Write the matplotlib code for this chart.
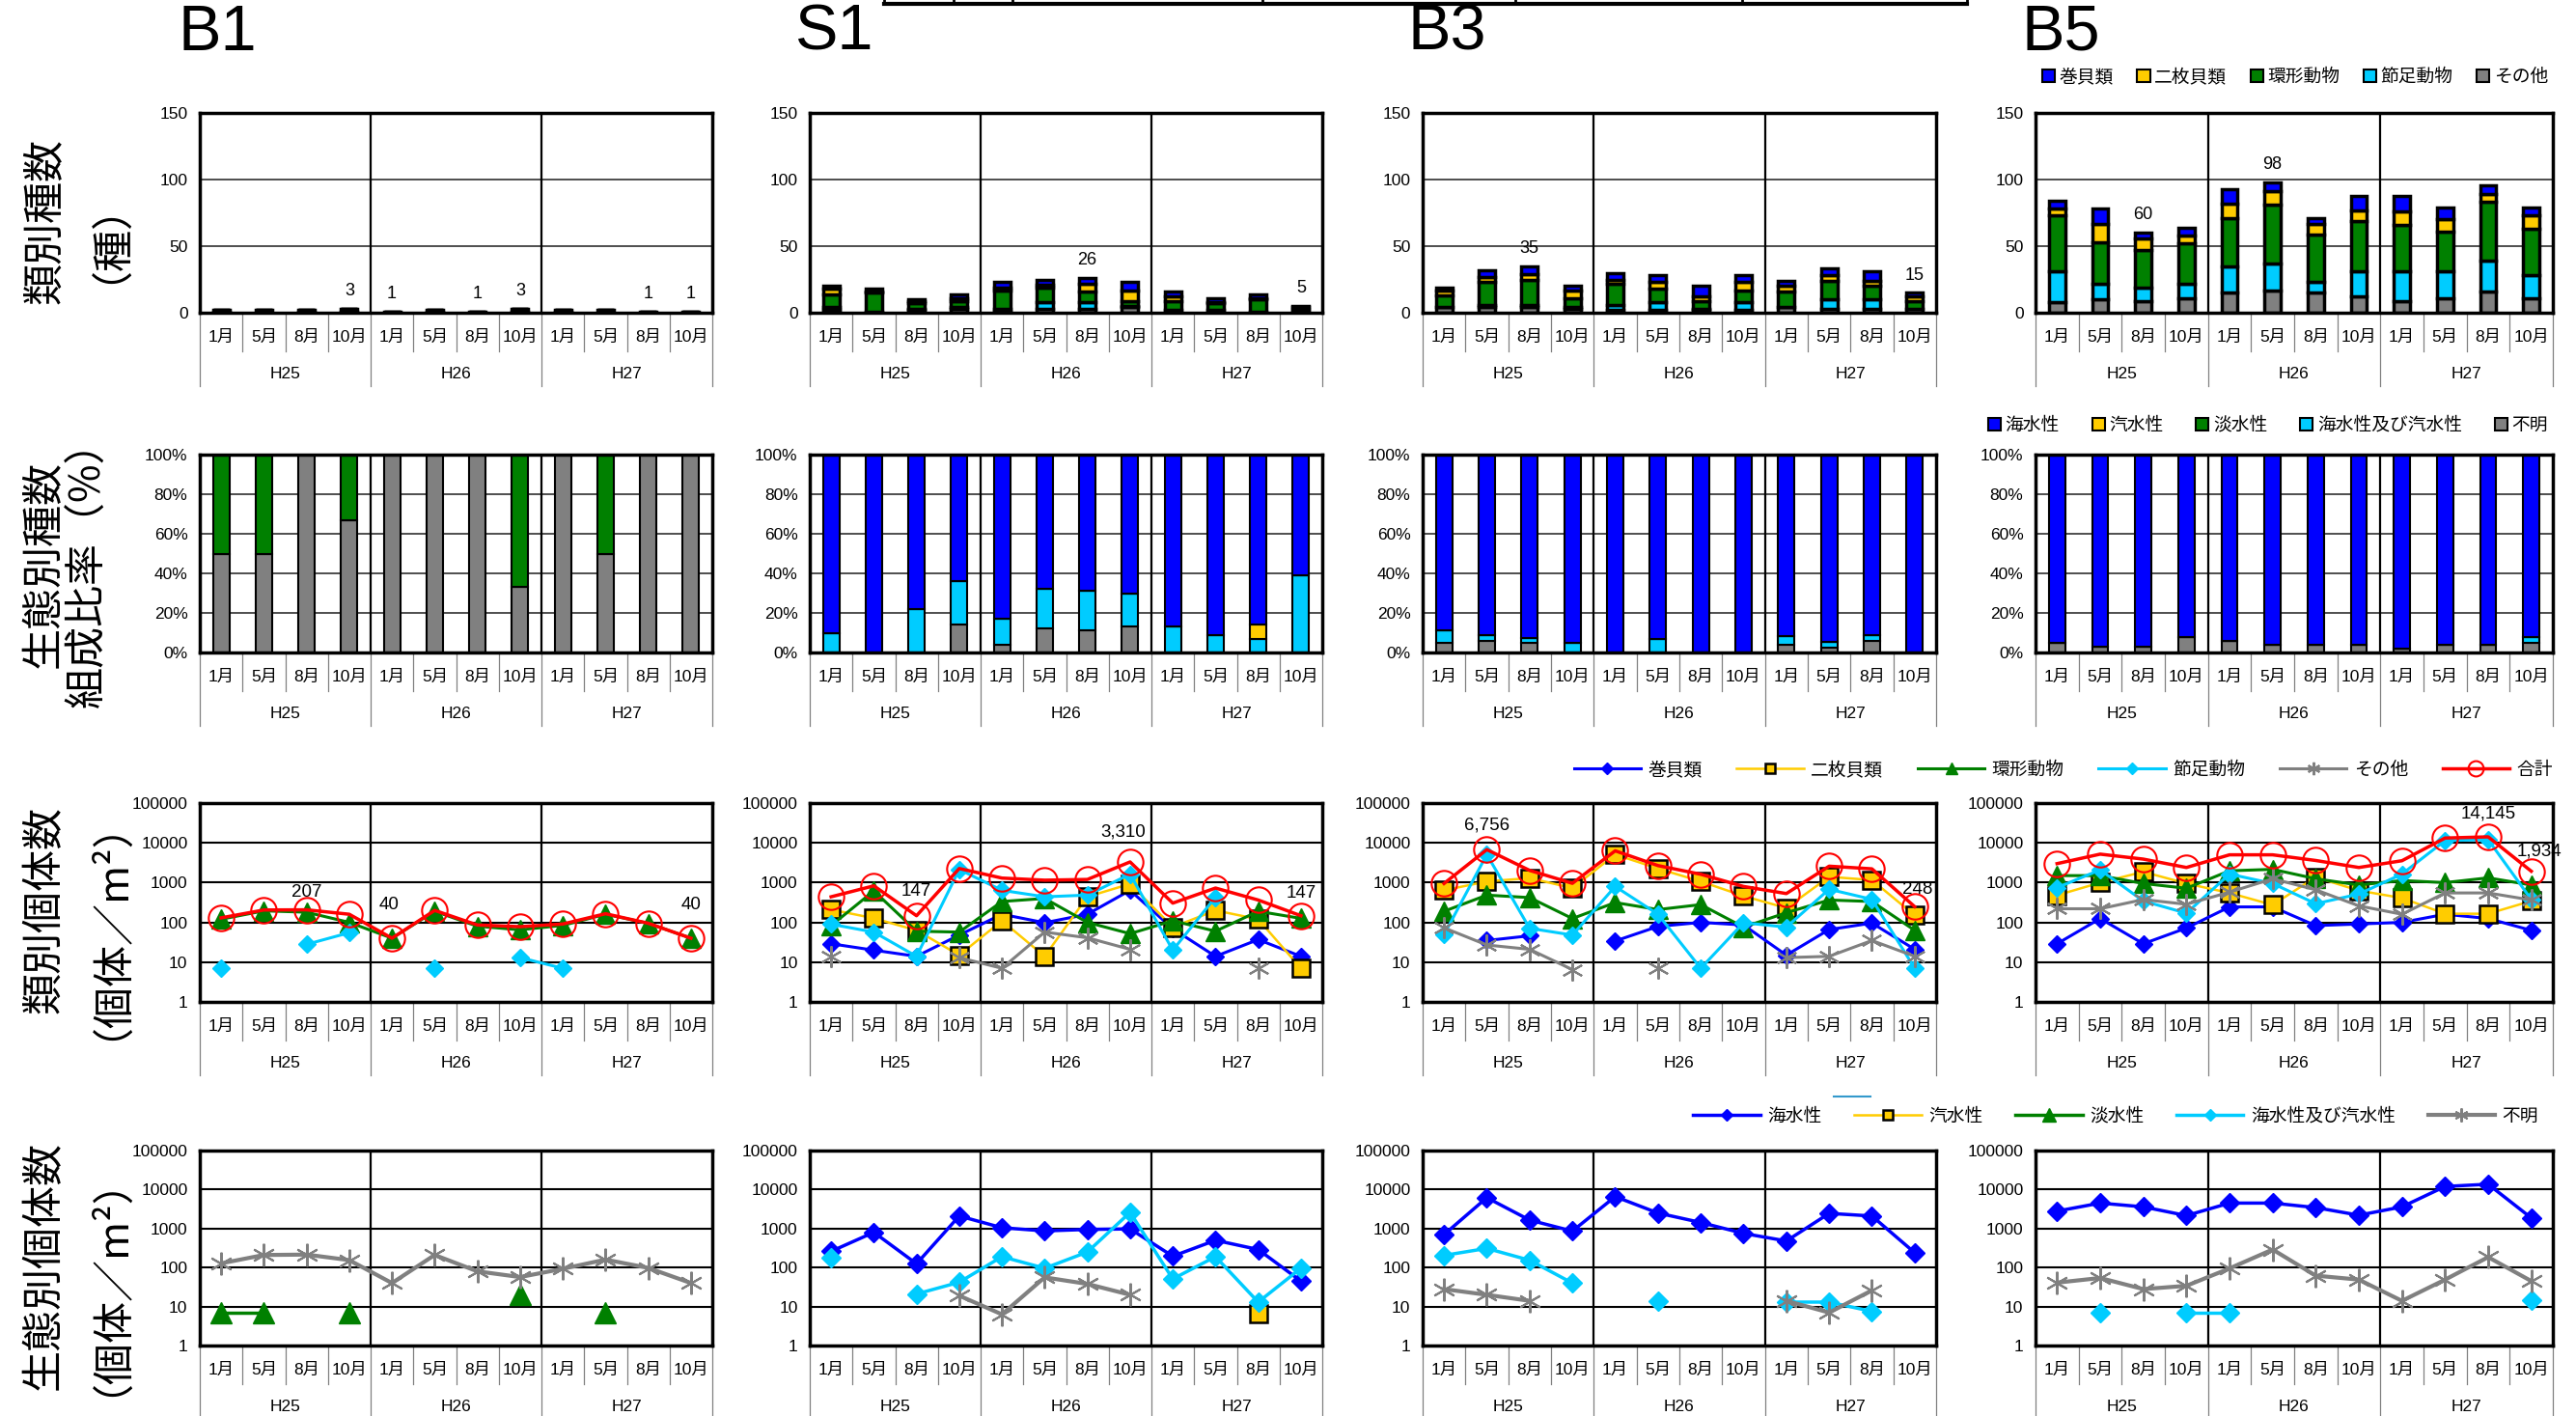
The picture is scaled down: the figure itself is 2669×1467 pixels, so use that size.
import numpy as np
import matplotlib
matplotlib.use("Agg")
import matplotlib.pyplot as plt
from matplotlib.lines import Line2D
from matplotlib.patches import Patch
from matplotlib.ticker import FixedLocator, LogLocator, NullFormatter

plt.rcParams["font.family"] = ["Liberation Sans", "Noto Sans CJK JP"]

months = ["1月", "5月", "8月", "10月"] * 3
years = ["H25", "H26", "H27"]
stations = ["B1", "S1", "B3", "B5"]

taxa = ["巻貝類", "二枚貝類", "環形動物", "節足動物", "その他"]
eco = ["海水性", "汽水性", "淡水性", "海水性及び汽水性", "不明"]
N = None

# --- species count by taxon (巻貝類, 二枚貝類, 環形動物, 節足動物, その他)
b1_species = [[0] * 12,
              [0] * 12,
              [1, 2, 1, 2, 1, 1, 1, 2, 1, 2, 1, 1],
              [1, 0, 1, 1, 0, 1, 0, 1, 1, 0, 0, 0],
              [0] * 12]
s1_species = [[2, 2, 1, 3, 4, 4, 4, 6, 4, 3, 3, 1],
              [4, 1, 2, 2, 2, 2, 6, 8, 3, 1, 1, 0],
              [10, 14, 4, 5, 14, 11, 8, 4, 7, 5, 9, 2],
              [2, 0, 1, 1, 2, 5, 5, 1, 0, 0, 0, 0],
              [2, 1, 2, 3, 1, 3, 3, 4, 2, 2, 1, 2]]
b3_species = [[2, 5, 6, 3, 5, 5, 8, 5, 4, 5, 7, 3],
              [4, 4, 4, 6, 3, 5, 3, 6, 4, 4, 4, 3],
              [9, 17, 19, 7, 16, 10, 6, 9, 12, 14, 10, 6],
              [0, 2, 2, 1, 4, 6, 1, 6, 0, 7, 7, 0],
              [4, 4, 4, 3, 2, 2, 2, 2, 4, 3, 3, 3]]
b5_species = [[6, 11, 4, 6, 11, 7, 4, 11, 12, 9, 7, 6],
              [5, 14, 9, 6, 11, 10, 8, 8, 10, 9, 6, 10],
              [42, 31, 28, 30, 36, 44, 36, 38, 35, 30, 44, 35],
              [23, 12, 10, 11, 20, 20, 8, 19, 22, 20, 23, 17],
              [8, 10, 9, 11, 15, 17, 15, 12, 9, 11, 16, 11]]
species_label_idx = {"B1": [3, 4, 6, 7, 10, 11], "S1": [6, 11], "B3": [2, 11], "B5": [2, 5]}

# --- species composition by ecology, % (海水性, 汽水性, 淡水性, 海水性及び汽水性, 不明)
b1_eco_pct = [[0] * 12,
              [0] * 12,
              [50, 50, 0, 33, 0, 0, 0, 67, 0, 50, 0, 0],
              [0] * 12,
              [50, 50, 100, 67, 100, 100, 100, 33, 100, 50, 100, 100]]
s1_eco_pct = [[90, 100, 78, 64, 83, 68, 69, 70, 87, 91, 86, 61],
              [0, 0, 0, 0, 0, 0, 0, 0, 0, 0, 7, 0],
              [0] * 12,
              [10, 0, 22, 22, 13, 20, 20, 17, 13, 9, 7, 39],
              [0, 0, 0, 14, 4, 12, 11, 13, 0, 0, 0, 0]]
b3_eco_pct = [[89, 91, 92.5, 95, 100, 93, 100, 100, 91.5, 94.5, 91, 100],
              [0] * 12,
              [0] * 12,
              [6, 3, 2.5, 5, 0, 7, 0, 0, 4.5, 3, 3, 0],
              [5, 6, 5, 0, 0, 0, 0, 0, 4, 2.5, 6, 0]]
b5_eco_pct = [[95, 97, 97, 92, 94, 96, 96, 96, 98, 96, 96, 92],
              [0] * 12,
              [0] * 12,
              [0] * 11 + [3],
              [5, 3, 3, 8, 6, 4, 4, 4, 2, 4, 4, 5]]

# --- individuals by taxon (巻貝類, 二枚貝類, 環形動物, 節足動物, その他, 合計)
b1_ind = [[N] * 12,
          [N] * 12,
          [120, 195, 180, 100, 40, 190, 80, 65, 84, 160, 95, 40],
          [7, N, 28, 55, N, 7, N, 13, 7, N, N, N],
          [N] * 12,
          [130, 205, 207, 160, 40, 200, 86, 78, 91, 165, 95, 40]]
s1_ind = [[29, 20, 14, 48, 160, 98, 160, 640, 69, 14, 37, 14],
          [210, 127, 63, 15, 110, 14, 440, 930, 76, 200, 120, 7],
          [83, 620, 60, 57, 335, 400, 100, 52, 110, 60, 190, 126],
          [90, 57, 14, 2140, 640, 440, 485, 1630, 20, 430, N, N],
          [14, N, N, 13, 7, 57, 41, 21, N, N, 7, N],
          [440, 830, 147, 2260, 1300, 1150, 1200, 3310, 305, 730, 365, 147]]
b3_ind = [[N, 35, 46, N, 34, 79, 100, 86, 15, 66, 96, 21],
          [640, 1070, 1300, 730, 5100, 2260, 1070, 460, 230, 1400, 1160, 150],
          [190, 485, 420, 125, 315, 210, 280, 76, 175, 365, 335, 63],
          [49, 5100, 71, 48, 800, 160, 7, 98, 76, 680, 380, 7],
          [73, 27, 21, 6.5, N, 7, N, N, 13, 14, 35, 14],
          [950, 6756, 2030, 960, 6300, 2680, 1620, 800, 530, 2590, 2220, 248]]
b5_ind = [[29, 125, 29, 72, 245, 245, 83, 91, 100, 160, 125, 63],
          [480, 1000, 1870, 950, 550, 275, 1370, 630, 410, 165, 165, 345],
          [1500, 1500, 950, 720, 1980, 2160, 1250, 870, 1130, 1000, 1320, 870],
          [750, 2090, 345, 170, 1640, 950, 295, 515, 1640, 11400, 12000, 375],
          [220, 220, 375, 285, 575, 1250, 660, 260, 160, 550, 550, 365],
          [3000, 5200, 3900, 2400, 5000, 5000, 3600, 2400, 3550, 13200, 14145, 1934]]
total_label_idx = {"B1": [2, 4, 11], "S1": [2, 7, 11], "B3": [1, 11], "B5": [10, 11]}

# --- individuals by ecology (海水性, 汽水性, 淡水性, 海水性及び汽水性, 不明)
b1_eco_ind = [[N] * 12,
              [N] * 12,
              [7, 7, N, 7, N, N, N, 20, N, 7, N, N],
              [N] * 12,
              [128, 210, 215, 155, 40, 210, 80, 57, 93, 160, 98, 40]]
s1_eco_ind = [[260, 800, 125, 2100, 1050, 870, 950, 980, 195, 500, 290, 45],
              [N] * 10 + [6.5, N],
              [N] * 12,
              [180, N, 21, 42, 190, 96, 250, 2600, 51, 190, 13, 96],
              [N, N, N, 19, 6.3, 56, 38, 20, N, N, N, N]]
b3_eco_ind = [[700, 6200, 1650, 860, 6600, 2500, 1430, 750, 480, 2450, 2100, 240],
              [N] * 12,
              [N] * 12,
              [205, 310, 154, 40, N, 14, N, N, 13, 13, 7.5, N],
              [28, 20, 14, N, N, N, N, N, 14, 7, 26, N]]
b5_eco_ind = [[2800, 4500, 3600, 2150, 4500, 4500, 3450, 2200, 3600, 12000, 13700, 1870],
              [N] * 12,
              [N] * 12,
              [N, 7, N, 7, 7, N, N, N, N, N, N, 14.5],
              [41, 54, 28, 34, 95, 290, 62, 49, 14, 49, 185, 45]]

species_data = [b1_species, s1_species, b3_species, b5_species]
eco_pct_data = [b1_eco_pct, s1_eco_pct, b3_eco_pct, b5_eco_pct]
ind_data = [b1_ind, s1_ind, b3_ind, b5_ind]
eco_ind_data = [b1_eco_ind, s1_eco_ind, b3_eco_ind, b5_eco_ind]

colors = ["#0000FF", "#FFCC00", "#008000", "#00CCFF", "#808080"]
asterisk = (6, 2, 0)
line_styles = [
    dict(color="#0000FF", marker="D", ms=9.5, mfc="#0000FF", mec="#0000FF", lw=2.2),
    dict(color="#FFCC00", marker="s", ms=13, mfc="#FFCC00", mec="black", mew=1.8, lw=1.8),
    dict(color="#008000", marker="^", ms=14, mfc="#008000", mec="#008000", lw=2.2),
    dict(color="#00CCFF", marker="D", ms=9.5, mfc="#00CCFF", mec="#00CCFF", lw=2.2),
    dict(color="#808080", marker=asterisk, ms=16, mec="#808080", mew=1.5, lw=2.2),
    dict(color="#FF0000", marker="o", ms=19, mfc="none", mec="#FF0000", mew=1.5, lw=2.5),
]
eco_styles = [
    dict(color="#0000FF", marker="D", ms=10, mfc="#0000FF", mec="#0000FF", lw=2.5),
    dict(color="#FFCC00", marker="s", ms=13, mfc="#FFCC00", mec="black", mew=1.8, lw=1.8),
    dict(color="#008000", marker="^", ms=16, mfc="#008000", mec="#008000", lw=2.5),
    dict(color="#00CCFF", marker="D", ms=10, mfc="#00CCFF", mec="#00CCFF", lw=2.5),
    dict(color="#808080", marker=asterisk, ms=17, mec="#808080", mew=1.5, lw=3),
]

W, H = 2669, 1467
col_left = [207, 839, 1474, 2109]
col_width = [531, 531, 532, 536]
row_top = [117, 471, 832, 1192]
row_bottom = [324, 676, 1038, 1394]
x = np.arange(12)

fig = plt.figure(figsize=(W / 100, H / 100), dpi=100)


def category_axis(ax, h_px):
    ax.set_xlim(-0.5, 11.5)
    ax.set_xticks([])
    tr = ax.get_xaxis_transform()
    for i, m in enumerate(months):
        ax.text(i, -25 / h_px, m, transform=tr, ha="center", va="center", fontsize=12.5)
    for j, yr in enumerate(years):
        ax.text(4 * j + 1.5, -63 / h_px, yr, transform=tr, ha="center", va="center", fontsize=12.5)
    for b in np.arange(-0.5, 12, 1):
        end = -76 if (b + 0.5) % 4 == 0 else -40
        ax.plot([b, b], [0, end / h_px], transform=tr, color="#808080", lw=0.9, clip_on=False)
    for b in [3.5, 7.5]:
        ax.axvline(b, color="black", lw=1.6, zorder=1.5)


def make_ax(row, col):
    l, w = col_left[col], col_width[col]
    t, b = row_top[row], row_bottom[row]
    ax = fig.add_axes([l / W, 1 - b / H, w / W, (b - t) / H])
    for s in ax.spines.values():
        s.set_linewidth(2.5)
        s.set_zorder(10)
    ax.tick_params(axis="y", which="major", length=0, pad=9, labelsize=12.5)
    category_axis(ax, b - t)
    ax.set_axisbelow(True)
    return ax


def log_axis(ax):
    ax.set_yscale("log")
    ax.set_ylim(1, 100000)
    ticks = [1, 10, 100, 1000, 10000, 100000]
    ax.yaxis.set_major_locator(FixedLocator(ticks))
    ax.set_yticklabels([str(t) for t in ticks])
    ax.yaxis.set_minor_locator(LogLocator(base=10, subs=np.arange(2, 10)))
    ax.yaxis.set_minor_formatter(NullFormatter())
    ax.tick_params(axis="y", which="minor", direction="in", length=4, width=0.8)
    ax.yaxis.grid(True, which="major", color="black", lw=1.5)


def arr(v):
    return np.array([np.nan if a is None else a for a in v], dtype=float)


label_offsets = {("B1", 2): (0, 13), ("B1", 4): (-2, 25), ("B1", 11): (0, 25),
                 ("S1", 7): (-5, 22), ("S1", 11): (0, 17),
                 ("B3", 11): (2, 13), ("B5", 10): (0, 17), ("B5", 11): (6, 15)}

for c, st in enumerate(stations):
    # row 1: species by taxon
    ax = make_ax(0, c)
    ax.set_ylim(0, 150)
    ax.set_yticks([0, 50, 100, 150])
    ax.yaxis.grid(True, color="#303030", lw=1.2)
    bottom = np.zeros(12)
    for k in reversed(range(5)):
        vals = np.array(species_data[c][k], dtype=float)
        ax.bar(x, vals, width=0.38, bottom=bottom, color=colors[k], edgecolor="black", lw=2.5, zorder=3)
        bottom += vals
    for i in species_label_idx[st]:
        ax.annotate(str(int(bottom[i])), (i, bottom[i]), xytext=(0, 7), textcoords="offset points",
                    ha="center", va="bottom", fontsize=13)

    # row 2: composition by ecology
    ax = make_ax(1, c)
    ax.set_ylim(0, 100)
    ax.set_yticks(range(0, 101, 20))
    ax.set_yticklabels([f"{v}%" for v in range(0, 101, 20)])
    ax.yaxis.grid(True, color="#303030", lw=1.2)
    bottom = np.zeros(12)
    for k in reversed(range(5)):
        vals = np.array(eco_pct_data[c][k], dtype=float)
        ax.bar(x, vals, width=0.38, bottom=bottom, color=colors[k], edgecolor="black", lw=1.5, zorder=3)
        bottom += vals

    # row 3: individuals by taxon
    ax = make_ax(2, c)
    log_axis(ax)
    for k, series in enumerate(ind_data[c]):
        ax.plot(x, arr(series), zorder=3 + k, clip_on=False, **line_styles[k])
    tot = ind_data[c][5]
    for i in total_label_idx[st]:
        ax.annotate(f"{int(tot[i]):,}", (i, tot[i]), xytext=label_offsets.get((st, i), (0, 18)),
                    textcoords="offset points", ha="center", va="center", fontsize=13.5, zorder=20)

    # row 4: individuals by ecology
    ax = make_ax(3, c)
    log_axis(ax)
    for k, series in enumerate(eco_ind_data[c]):
        ax.plot(x, arr(series), zorder=3 + k, clip_on=False, **eco_styles[k])

# station titles
title_x = [185, 823, 1459, 2095]
for st, tx in zip(stations, title_x):
    fig.text(tx / W, 1 - 35 / H, st, fontsize=48, ha="left", va="center", family=["Liberation Sans"])

# row titles
row_titles = ["類別種数\n（種）", "生態別種数\n組成比率（%）", "類別個体数\n（個体／m²）", "生態別個体数\n（個体／m²）"]
row_centers = [229, 584, 942, 1311]
for txt, yc in zip(row_titles, row_centers):
    fig.text(69 / W, 1 - yc / H, txt, rotation=90, fontsize=31, ha="center", va="center",
             multialignment="center", linespacing=1.05, family=["Noto Sans CJK JP", "DejaVu Sans"])

# legends
sq = [Patch(facecolor=col, edgecolor="black", lw=1.5) for col in colors]
fig.legend(sq, taxa, loc="center right", bbox_to_anchor=(2640 / W, 1 - 80 / H), ncol=5, frameon=False,
           fontsize=13.5, handlelength=0.7, handleheight=0.7, handletextpad=0.25, columnspacing=1.3,
           borderpad=0, borderaxespad=0)
fig.legend(sq, eco, loc="center right", bbox_to_anchor=(2640 / W, 1 - 441 / H), ncol=5, frameon=False,
           fontsize=13.5, handlelength=0.7, handleheight=0.7, handletextpad=0.25, columnspacing=1.8,
           borderpad=0, borderaxespad=0)


def legend_line(st):
    s = dict(st)
    s["ms"] = s["ms"] * 0.6
    return Line2D([], [], **s)


fig.legend([legend_line(s) for s in line_styles], taxa + ["合計"], loc="center right",
           bbox_to_anchor=(2645 / W, 1 - 798 / H), ncol=6, frameon=False, fontsize=13.5,
           handlelength=3.7, handletextpad=0.4, columnspacing=1.9, borderpad=0, borderaxespad=0)
fig.legend([legend_line(s) for s in eco_styles], eco, loc="center right",
           bbox_to_anchor=(2630 / W, 1 - 1157 / H), ncol=5, frameon=False, fontsize=13.5,
           handlelength=3.7, handletextpad=0.4, columnspacing=1.8, borderpad=0, borderaxespad=0)

# edge of a table cut off at the top of the page
fig.add_artist(Line2D([916 / W, 2038 / W], [1 - 4 / H, 1 - 4 / H], color="black", lw=3))
for vx in [916, 988, 1049, 1308, 1570, 1805, 2038]:
    fig.add_artist(Line2D([vx / W, vx / W], [1 - 4 / H, 1.0], color="black", lw=2))
fig.add_artist(Line2D([1900 / W, 1938 / W], [1 - 1136 / H, 1 - 1136 / H], color="#3399CC", lw=1.5))

fig.savefig("out.png", dpi=100)
